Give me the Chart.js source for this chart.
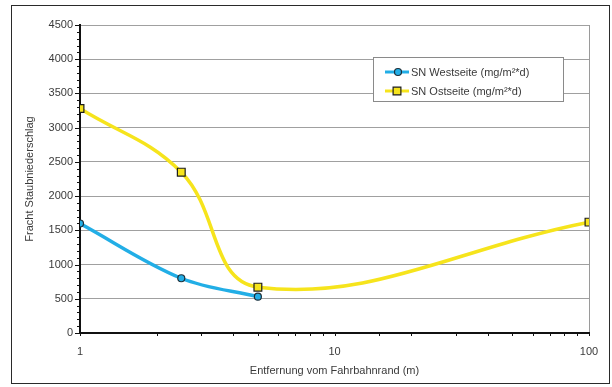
<!DOCTYPE html>
<html>
<head>
<meta charset="utf-8">
<script src="https://cdn.jsdelivr.net/npm/chart.js@4/dist/chart.umd.min.js"></script>
<style>
  html, body { margin: 0; padding: 0; background: #ffffff; }
  #wrap { width: 612px; height: 387px; position: relative; }
</style>
</head>
<body>
<div id="wrap"><canvas id="c" width="612" height="387"></canvas></div>
<script>
// Staubniederschlag in Abhängigkeit von der Entfernung zum Fahrbahnrand
const westDistances = [1, 2.5, 5];
const westValues = [1600, 800, 530];
const ostDistances = [1, 2.5, 5, 100];
const ostValues = [3280, 2350, 670, 1620];
const xLabelValues = [1, 10, 100];
const seriesNames = ['SN Westseite (mg/m\u00b2*d)', 'SN Ostseite (mg/m\u00b2*d)'];

const FONT = 'Liberation Sans, Arial, sans-serif';
const TEXT = '#3a3a3a';
const BLUE = '#22aee6';
const YELLOW = '#f6e41c';

const toPoints = (xs, ys) => xs.map((x, i) => ({ x: x, y: ys[i] }));

// outer frame of the figure
const framePlugin = {
  id: 'frame',
  beforeDraw(chart) {
    const ctx = chart.ctx;
    ctx.save();
    ctx.fillStyle = '#ffffff';
    ctx.fillRect(0, 0, chart.width, chart.height);
    ctx.strokeStyle = '#2a2a2a';
    ctx.lineWidth = 1;
    ctx.strokeRect(11.5, 5.5, 598, 378);
    ctx.restore();
  }
};

// small tick marks along both axes
const tickMarkPlugin = {
  id: 'tickMarks',
  afterDatasetsDraw(chart) {
    const ctx = chart.ctx;
    const xs = chart.scales.x, ys = chart.scales.y;
    const ca = chart.chartArea;
    ctx.save();
    ctx.strokeStyle = '#111';
    ctx.lineWidth = 1;
    ctx.beginPath();
    for (let v = 0; v <= 4500; v += 100) {
      const y = Math.round(ys.getPixelForValue(v)) + 0.5;
      const len = v % 500 === 0 ? 5 : 3;
      ctx.moveTo(ca.left - len, y);
      ctx.lineTo(ca.left, y);
    }
    xs.ticks.forEach(t => {
      const x = Math.round(xs.getPixelForValue(t.value)) + 0.5;
      ctx.moveTo(x, ca.bottom - 1);
      ctx.lineTo(x, ca.bottom + 3);
    });
    ctx.stroke();
    ctx.restore();
  }
};

// legend box inside the plot area
const legendBoxPlugin = {
  id: 'legendBox',
  afterDraw(chart) {
    const ctx = chart.ctx;
    const left = 373, top = 57, w = 190, h = 44;
    ctx.save();
    ctx.fillStyle = '#ffffff';
    ctx.fillRect(left, top, w, h);
    ctx.strokeStyle = '#8a8a8a';
    ctx.lineWidth = 1;
    ctx.strokeRect(left + 0.5, top + 0.5, w, h);
    chart.data.datasets.forEach((ds, i) => {
      const y = top + 15 + i * 19;
      ctx.strokeStyle = ds.borderColor;
      ctx.lineWidth = 3;
      ctx.beginPath();
      ctx.moveTo(left + 12, y);
      ctx.lineTo(left + 36, y);
      ctx.stroke();
      ctx.fillStyle = ds.pointBackgroundColor;
      ctx.strokeStyle = ds.pointBorderColor;
      ctx.lineWidth = ds.pointBorderWidth;
      ctx.beginPath();
      if (ds.pointStyle === 'rect') {
        const s = Math.SQRT1_2 * ds.pointRadius;
        ctx.rect(left + 24 - s, y - s, 2 * s, 2 * s);
      } else {
        ctx.arc(left + 25, y, ds.pointRadius, 0, Math.PI * 2);
      }
      ctx.fill();
      ctx.stroke();
      ctx.fillStyle = TEXT;
      ctx.font = '11px ' + FONT;
      ctx.textBaseline = 'middle';
      ctx.textAlign = 'left';
      ctx.fillText(ds.label, left + 38, y + 0.5);
    });
    ctx.restore();
  }
};

new Chart(document.getElementById('c'), {
  type: 'line',
  data: {
    datasets: [
      {
        label: seriesNames[0],
        data: toPoints(westDistances, westValues),
        borderColor: BLUE,
        borderWidth: 3.5,
        tension: 0.35,
        pointStyle: 'circle',
        pointRadius: 3.5,
        pointBackgroundColor: BLUE,
        pointBorderColor: '#1d2f3a',
        pointBorderWidth: 1.2,
        fill: false
      },
      {
        label: seriesNames[1],
        data: toPoints(ostDistances, ostValues),
        borderColor: YELLOW,
        borderWidth: 3.5,
        tension: 0.4,
        pointStyle: 'rect',
        pointRadius: 5.5,
        pointBackgroundColor: YELLOW,
        pointBorderColor: '#1d1d1d',
        pointBorderWidth: 1.2,
        fill: false
      }
    ]
  },
  options: {
    responsive: false,
    animation: false,
    events: [],
    layout: { padding: { left: 12, right: 23, top: 25, bottom: 4 } },
    plugins: {
      legend: { display: false },
      tooltip: { enabled: false }
    },
    scales: {
      x: {
        type: 'logarithmic',
        min: 1,
        max: 100,
        afterFit(s) { s.height = 50; s.paddingLeft = 0; s.paddingRight = 0; },
        border: { display: true, color: '#111', width: 2 },
        grid: {
          drawTicks: false,
          color: c => (c.tick && c.tick.value === 100) ? '#9a9a9a' : 'rgba(0,0,0,0)',
          lineWidth: 1
        },
        ticks: {
          autoSkip: false,
          maxRotation: 0,
          padding: 12,
          color: TEXT,
          font: { family: FONT, size: 11 },
          callback: (v) => xLabelValues.includes(v) ? String(v) : ''
        },
        title: {
          display: true,
          text: 'Entfernung vom Fahrbahnrand (m)',
          color: TEXT,
          font: { family: FONT, size: 11 },
          padding: { top: 0, bottom: 5 }
        }
      },
      y: {
        type: 'linear',
        min: 0,
        max: 4500,
        afterFit(s) { s.width = 68; s.paddingTop = 0; s.paddingBottom = 0; },
        border: { display: true, color: '#111', width: 2 },
        grid: {
          drawTicks: false,
          color: c => (c.tick && c.tick.value % 500 === 0 && c.tick.value > 0) ? '#a0a0a0' : 'rgba(0,0,0,0)',
          lineWidth: 1
        },
        ticks: {
          stepSize: 100,
          autoSkip: false,
          padding: 7,
          color: TEXT,
          font: { family: FONT, size: 11 },
          callback: (v) => v % 500 === 0 ? String(v) : ''
        },
        title: {
          display: true,
          text: 'Fracht Staubniederschlag',
          color: TEXT,
          font: { family: FONT, size: 11 },
          padding: { top: 11, bottom: 0 }
        }
      }
    }
  },
  plugins: [framePlugin, tickMarkPlugin, legendBoxPlugin]
});
</script>
</body>
</html>
